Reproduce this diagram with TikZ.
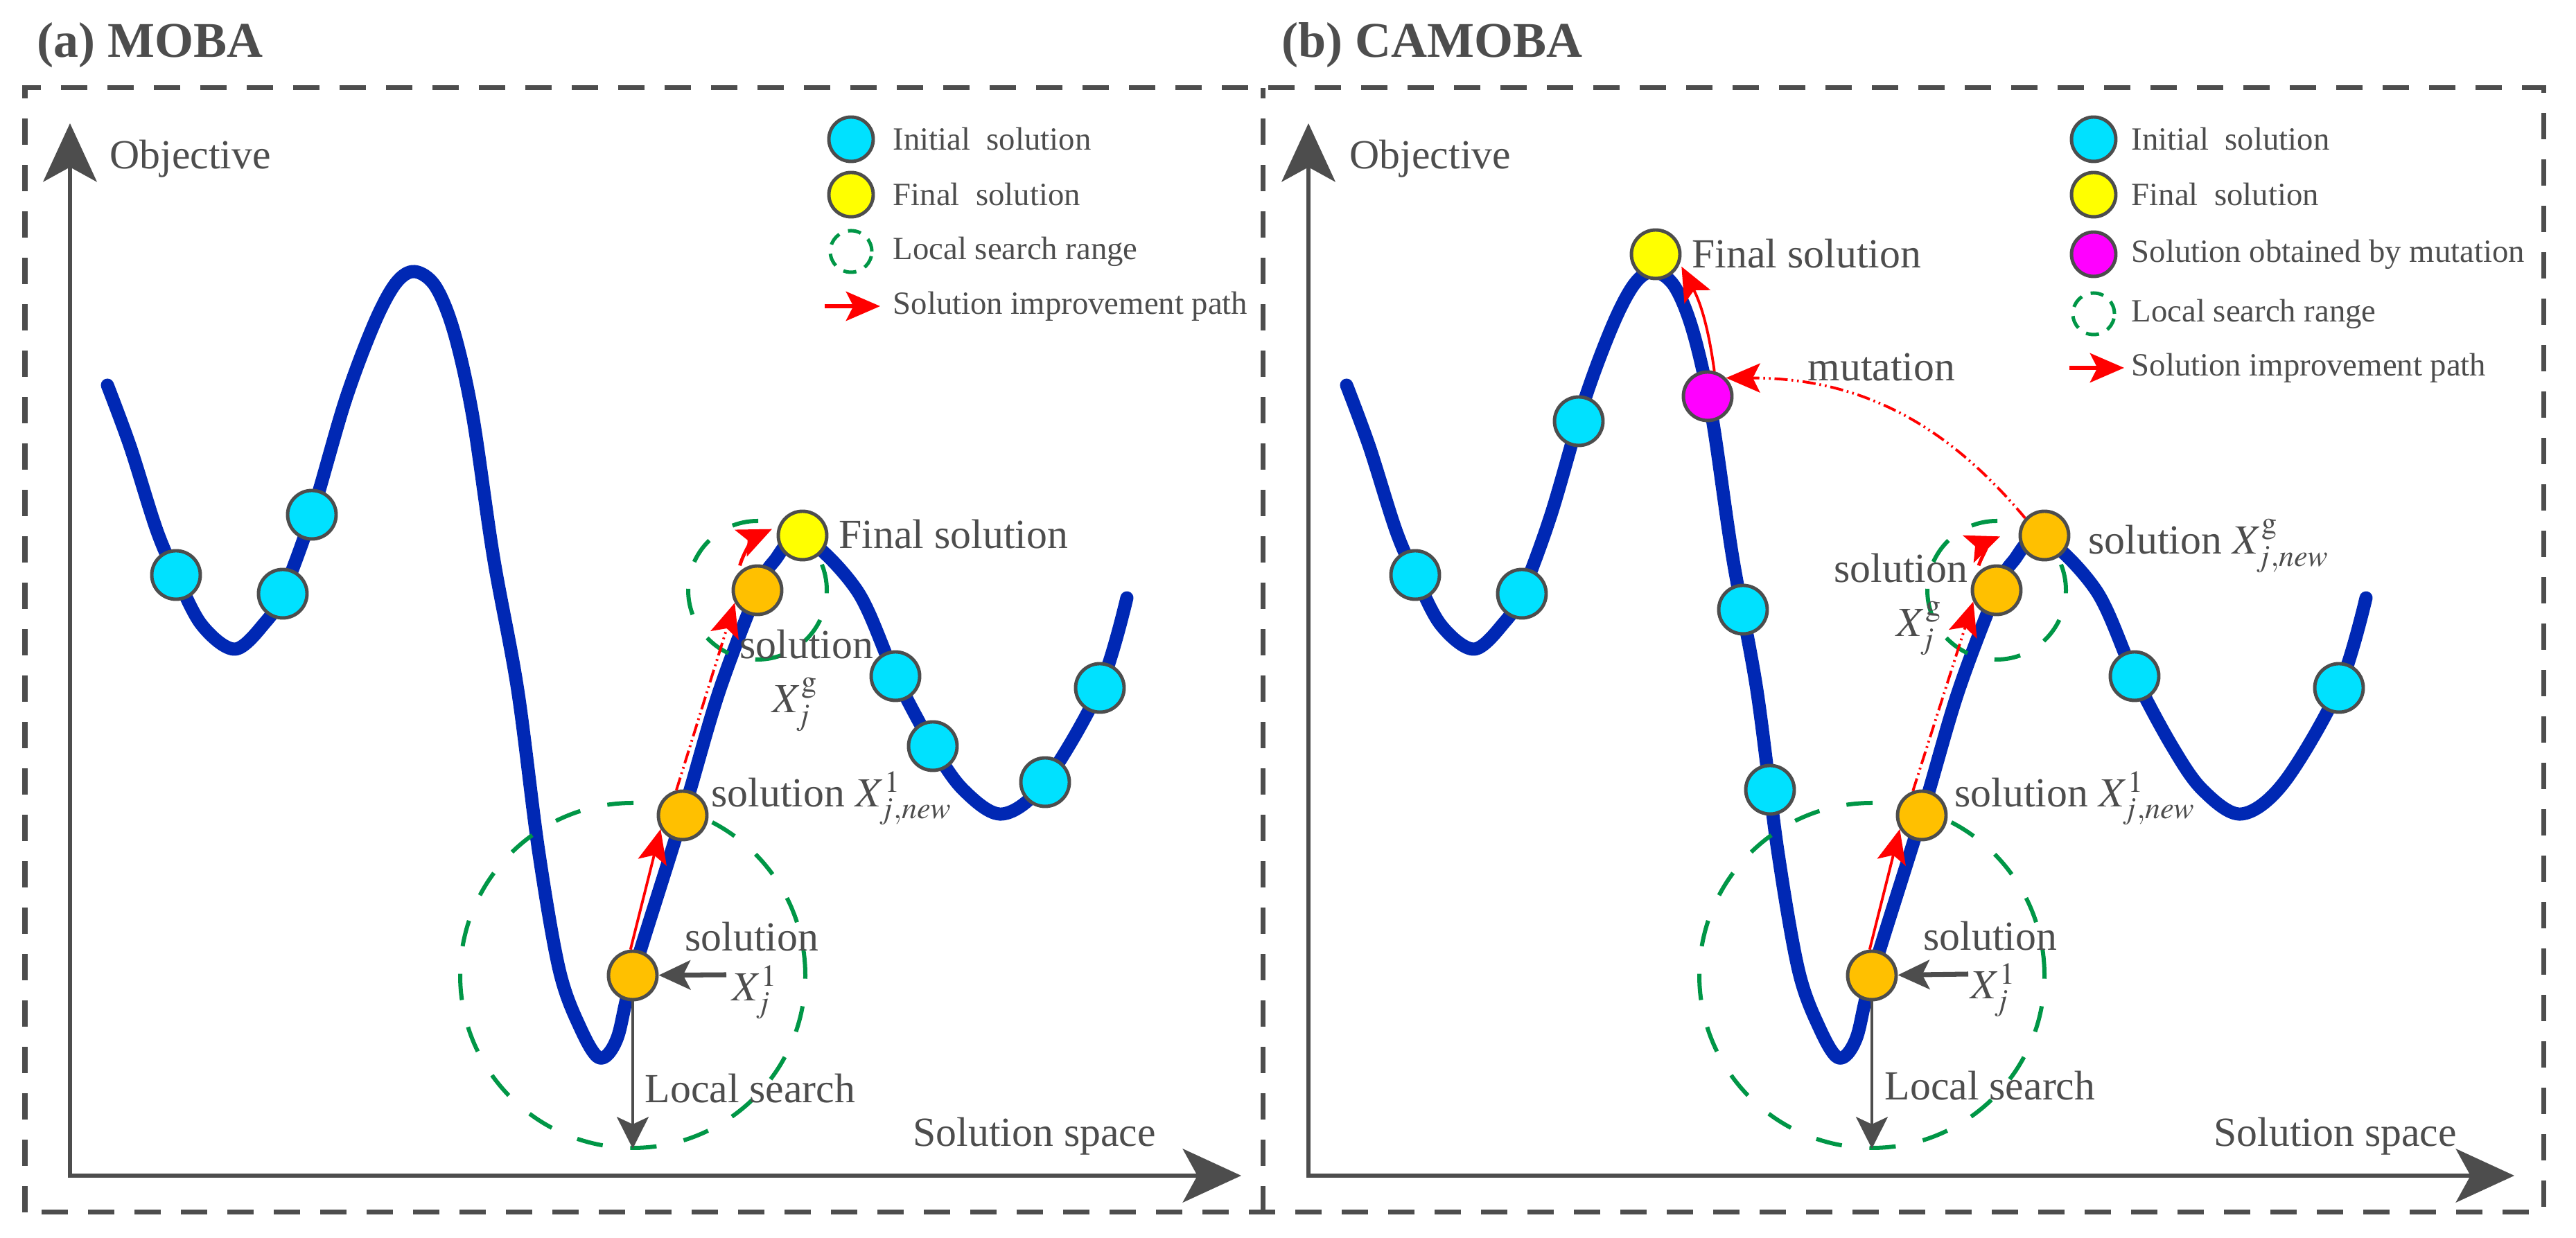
\documentclass[tikz,border=0pt]{standalone}
\usepackage{mathptmx}
\usepackage{fontspec}
\setmainfont{Liberation Serif}
\usetikzlibrary{arrows.meta}

\definecolor{inkgray}{RGB}{77,77,77}
\definecolor{landblue}{RGB}{0,40,180}
\definecolor{inicyan}{RGB}{0,225,255}
\definecolor{finyellow}{RGB}{255,255,0}
\definecolor{curorange}{RGB}{255,192,0}
\definecolor{mutmagenta}{RGB}{255,0,255}
\definecolor{rnggreen}{RGB}{0,150,70}
\definecolor{impred}{RGB}{255,0,0}

\tikzset{
  panel/.style={draw=inkgray, line width=0.07cm, dash pattern=on 0.38cm off 0.29cm},
  axisline/.style={draw=inkgray, line width=1.7pt,
    {Stealth[length=24pt,width=22pt,inset=6pt]}-{Stealth[length=24pt,width=22pt,inset=6pt]}},
  land/.style={draw=landblue, line width=0.19cm, line cap=round, line join=round},
  sol/.style={circle, draw=inkgray, line width=1.4pt, minimum size=0.70cm, inner sep=0pt},
  ini/.style={sol, fill=inicyan},
  fin/.style={sol, fill=finyellow},
  cur/.style={sol, fill=curorange},
  mut/.style={sol, fill=mutmagenta},
  keydot/.style={minimum size=0.64cm},
  rng/.style={draw=rnggreen, line width=0.06cm, dash pattern=on 0.38cm off 0.40cm},
  keyrng/.style={circle, draw=rnggreen, line width=0.05cm, dash pattern=on 0.19cm off 0.135cm,
    minimum size=0.60cm, inner sep=0pt},
  imp/.style={draw=impred, line width=1.1pt, -{Stealth[length=14pt,width=12pt,inset=3pt]}},
  impdd/.style={imp, dash pattern=on 5.4pt off 1.6pt on 0.7pt off 1.6pt on 0.7pt off 1.6pt},
  ptr/.style={draw=inkgray, line width=2pt, -{Stealth[length=13pt,width=12pt,inset=3pt]}},
  srch/.style={draw=inkgray, line width=1.4pt, -{Stealth[length=13pt,width=13pt,inset=3pt]}},
  lbl/.style={text=inkgray, font=\fontsize{17}{19}\selectfont, inner sep=0pt},
  keytxt/.style={text=inkgray, font=\fontsize{13.3}{15}\selectfont, inner sep=0pt, anchor=west},
  ttl/.style={text=inkgray, font=\fontsize{20.5}{23}\selectfont\bfseries, inner sep=0pt, anchor=base west},
}

\begin{document}
\begin{tikzpicture}
  \useasboundingbox (0,0) rectangle (37.17,17.87);
  \draw[panel] (0.36,0.37) rectangle (36.70,16.60);            %frame
  \draw[panel] (18.22,0.37) -- (18.22,16.60);                  %divider
  \node[ttl] (aTitle) at (0.53,17.04)  {(a) MOBA};
  \node[ttl] (bTitle) at (18.49,17.04) {(b) CAMOBA};

  %----------------------------------------------------------- (a)
  \coordinate (aO)  at (1.01,0.90);
  \coordinate (aYt) at (1.01,16.09);
  \coordinate (aXt) at (17.91,0.90);
  \draw[axisline] (aYt) -- (aO) -- (aXt);                      %axes
  \draw[land] plot[smooth, tension=0.55] coordinates {(1.55,12.31) (1.88,11.42) (2.26,10.22)
    (2.54,9.57) (2.91,8.85) (3.39,8.50) (3.83,8.89) (4.08,9.30) (4.50,10.44) (4.98,12.08)
    (5.40,13.20) (5.71,13.78) (5.98,13.95) (6.28,13.74) (6.55,13.08) (6.82,11.87) (7.12,9.83)
    (7.47,7.91) (7.77,5.60) (8.07,3.87) (8.37,3.04) (8.65,2.60) (8.90,2.87) (9.13,3.79)
    (9.85,6.10) (10.37,7.87) (10.93,9.35) (11.17,9.77) (11.58,10.12) (12.37,9.34) (12.92,8.11)
    (13.46,7.10) (13.90,6.47) (14.46,6.12) (15.08,6.58) (15.87,7.94) (16.26,9.24)};
  \draw[rng] (9.13,3.79) circle[radius=2.49];                  %local search range
  \draw[rng] (10.93,9.35) circle[radius=1.00];                 %
  \node[ini] (aC1) at (2.54,9.57)   {};
  \node[ini] (aC2) at (4.08,9.30)   {};
  \node[ini] (aC3) at (4.50,10.44)  {};
  \node[ini] (aC4) at (12.92,8.11)  {};
  \node[ini] (aC5) at (13.46,7.10)  {};
  \node[ini] (aC6) at (15.08,6.58)  {};
  \node[ini] (aC7) at (15.87,7.94)  {};
  \node[cur] (aX1) at (9.13,3.79)   {};                        %X_j^1
  \node[cur] (aXn) at (9.85,6.10)   {};                        %X_j,new^1
  \node[cur] (aXg) at (10.93,9.35)  {};                        %X_j^g
  \node[fin] (aF)  at (11.58,10.14) {};                        %final
  \draw[imp]    (aX1.95) -- (aXn.212);
  \draw[impdd]  (aXn.104) -- (aXg.209);
  \draw[imp, line width=1.4pt, shorten <=0.12cm, shorten >=0.1cm] (aXg.140) to[bend left=25] (aF.159);
  \coordinate (aP) at (10.48,3.80);
  \coordinate (aS) at (9.13,1.29);
  \draw[ptr]  (aP) -- (aX1);
  \draw[srch] (aX1) -- (aS);
  \node[lbl, anchor=base west] (aTobj) at (1.58,15.43)  {Objective};
  \node[lbl, anchor=base west] (aTspc) at (13.17,1.32)  {Solution space};
  \node[lbl, anchor=base west] (aTfin) at (12.10,9.95)  {Final solution};
  \node[lbl, anchor=base west] (aTxn)  at (10.26,6.22)  {solution $X^{1}_{j,new}$};
  \node[lbl, anchor=base]      (aTsg)  at (11.64,8.36)  {solution};
  \node[lbl, anchor=base]      (aTxg)  at (11.47,7.58)  {$X^{\mathrm{g}}_{j}$};
  \node[lbl, anchor=base]      (aTs1)  at (10.85,4.14)  {solution};
  \node[lbl, anchor=base]      (aTx1)  at (10.89,3.42)  {$X^{1}_{j}$};
  \node[lbl, anchor=base west] (aTls)  at (9.30,1.95)   {Local search};
  % legend
  \node[ini, keydot] (aK1) at (12.28,15.86) {};
  \node[keytxt] (aK1t) at (12.88,15.86) {Initial~~solution};
  \node[fin, keydot] (aK2) at (12.28,15.06) {};
  \node[keytxt] (aK2t) at (12.88,15.06) {Final~~solution};
  \node[keyrng] (aK3) at (12.28,14.24) {};
  \node[keytxt] (aK3t) at (12.88,14.24) {Local search range};
  \coordinate (aK4a) at (11.90,13.45);
  \coordinate (aK4b) at (12.70,13.45);
  \draw[imp, line width=1.6pt] (aK4a) -- (aK4b);
  \node[keytxt] (aK4t) at (12.88,13.45) {Solution improvement path};

  %----------------------------------------------------------- (b)
  \begin{scope}[xshift=17.88cm]
  \coordinate (bO)  at (1.00,0.90);
  \coordinate (bYt) at (1.00,16.09);
  \coordinate (bXt) at (18.40,0.90);
  \draw[axisline] (bYt) -- (bO) -- (bXt);                      %axes
  \draw[land] plot[smooth, tension=0.55] coordinates {(1.55,12.31) (1.88,11.42) (2.26,10.22)
    (2.54,9.57) (2.91,8.85) (3.39,8.50) (3.83,8.89) (4.08,9.30) (4.50,10.44) (4.98,12.08)
    (5.40,13.20) (5.71,13.78) (5.98,13.95) (6.28,13.74) (6.55,13.08) (6.82,11.87) (7.12,9.83)
    (7.47,7.91) (7.77,5.60) (8.07,3.87) (8.37,3.04) (8.65,2.60) (8.90,2.87) (9.13,3.79)
    (9.85,6.10) (10.37,7.87) (10.93,9.35) (11.17,9.77) (11.58,10.12) (12.37,9.34) (12.92,8.11)
    (13.46,7.10) (13.90,6.47) (14.46,6.12) (15.08,6.58) (15.87,7.94) (16.26,9.24)};
  \draw[rng] (9.13,3.79) circle[radius=2.49];                  %local search range
  \draw[rng] (10.93,9.35) circle[radius=1.00];                 %
  \node[ini] (bC1) at (2.54,9.57)   {};
  \node[ini] (bC2) at (4.08,9.30)   {};
  \node[ini] (bC3) at (4.90,11.79)  {};
  \node[ini] (bC4) at (7.27,9.07)   {};
  \node[ini] (bC5) at (7.66,6.47)   {};
  \node[ini] (bC6) at (12.92,8.11)  {};
  \node[ini] (bC7) at (15.87,7.94)  {};
  \node[fin] (bF)  at (6.01,14.20)  {};                        %final
  \node[mut] (bM)  at (6.76,12.15)  {};                        %mutation
  \node[cur] (bX1) at (9.13,3.79)   {};                        %X_j^1
  \node[cur] (bXn) at (9.85,6.10)   {};                        %X_j,new^1
  \node[cur] (bXg) at (10.93,9.35)  {};                        %X_j^g
  \node[cur] (bXm) at (11.62,10.14) {};                        %X_j,new^g
  \draw[imp]    (bX1.95) -- (bXn.212);
  \draw[impdd]  (bXn.110) -- (bXg.206);
  \draw[imp, line width=1.4pt, shorten <=0.15cm, shorten >=0.3cm] (bXg.145) to[bend left=25] (bXm.165);
  \draw[impdd]  (bXm.138) to[bend right=25] (bM.45);
  \draw[imp, shorten >=0.05cm] (bM.75) to[bend right=10] (bF.339);
  \coordinate (bP) at (10.52,3.81);
  \coordinate (bS) at (9.13,1.29);
  \draw[ptr]  (bP) -- (bX1);
  \draw[srch] (bX1) -- (bS);
  \node[lbl, anchor=base west] (bTobj) at (1.59,15.43)  {Objective};
  \node[lbl, anchor=base west] (bTspc) at (14.06,1.32)  {Solution space};
  \node[lbl, anchor=base west] (bTfin) at (6.53,14.00)  {Final solution};
  \node[lbl, anchor=base west] (bTmut) at (8.20,12.37)  {mutation};
  \node[lbl, anchor=base west] (bTxm)  at (12.25,9.87)  {solution $X^{\mathrm{g}}_{j,new}$};
  \node[lbl, anchor=base]      (bTsg)  at (9.55,9.46)   {solution};
  \node[lbl, anchor=base]      (bTxg)  at (9.81,8.68)   {$X^{\mathrm{g}}_{j}$};
  \node[lbl, anchor=base west] (bTxn)  at (10.32,6.22)  {solution $X^{1}_{j,new}$};
  \node[lbl, anchor=base]      (bTs1)  at (10.84,4.15)  {solution};
  \node[lbl, anchor=base]      (bTx1)  at (10.88,3.45)  {$X^{1}_{j}$};
  \node[lbl, anchor=base west] (bTls)  at (9.31,1.99)   {Local search};
  % legend
  \node[ini, keydot] (bK1) at (12.33,15.86) {};
  \node[keytxt] (bK1t) at (12.87,15.86) {Initial~~solution};
  \node[fin, keydot] (bK2) at (12.33,15.06) {};
  \node[keytxt] (bK2t) at (12.87,15.06) {Final~~solution};
  \node[mut, keydot] (bK3) at (12.33,14.20) {};
  \node[keytxt] (bK3t) at (12.87,14.20) {Solution obtained by mutation};
  \node[keyrng] (bK4) at (12.33,13.34) {};
  \node[keytxt] (bK4t) at (12.87,13.34) {Local search range};
  \coordinate (bK5a) at (11.98,12.56);
  \coordinate (bK5b) at (12.77,12.56);
  \draw[imp, line width=1.6pt] (bK5a) -- (bK5b);
  \node[keytxt] (bK5t) at (12.87,12.56) {Solution improvement path};
  \end{scope}
\end{tikzpicture}
\end{document}
